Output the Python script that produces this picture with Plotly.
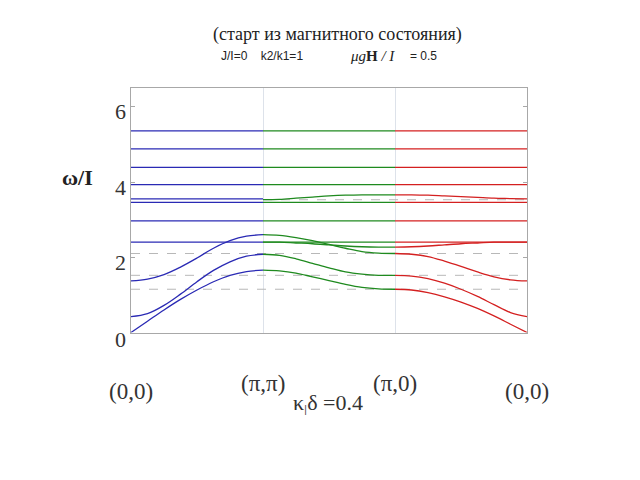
import plotly.graph_objects as go

# k-path positions per segment (fraction along each segment)
seg_frac = [0, 0.125, 0.25, 0.375, 0.5, 0.625, 0.75, 0.875, 1.0]
seg_start = [0, 1, 2]
seg_colors = ["#2a2ab4", "#1f8a1f", "#d42020"]

# flat branches (same in all segments)
flat_levels = [5.36, 4.88, 4.39, 3.93, 3.46, 2.97, 2.40]
# blue-only flat branch
blue_extra_flat = 3.55

# dispersive branches: [blue (G->M), green (M->X), red (X->G)]
band1 = [
    [0.00, 0.30, 0.60, 0.88, 1.13, 1.35, 1.52, 1.62, 1.66],
    [1.66, 1.64, 1.58, 1.48, 1.38, 1.28, 1.20, 1.16, 1.15],
    [1.15, 1.13, 1.06, 0.95, 0.81, 0.64, 0.44, 0.22, 0.00],
]
band2 = [
    [0.42, 0.50, 0.72, 1.02, 1.35, 1.65, 1.88, 2.03, 2.08],
    [2.08, 2.05, 1.96, 1.84, 1.72, 1.61, 1.55, 1.52, 1.52],
    [1.52, 1.50, 1.43, 1.31, 1.15, 0.96, 0.74, 0.53, 0.42],
]
band3 = [
    [1.37, 1.42, 1.54, 1.74, 1.98, 2.24, 2.44, 2.56, 2.60],
    [2.60, 2.58, 2.52, 2.44, 2.34, 2.24, 2.15, 2.11, 2.10],
    [2.10, 2.08, 2.02, 1.90, 1.76, 1.61, 1.48, 1.40, 1.37],
]
band4_gx = [
    [2.40, 2.40, 2.38, 2.36, 2.33, 2.30, 2.28, 2.27, 2.27],
    [2.27, 2.28, 2.30, 2.33, 2.36, 2.38, 2.40, 2.40, 2.40],
]
band5_gx = [
    [3.53, 3.54, 3.57, 3.60, 3.63, 3.65, 3.66, 3.66, 3.66],
    [3.66, 3.66, 3.65, 3.63, 3.61, 3.59, 3.57, 3.56, 3.55],
]

dashed_levels = [1.15, 1.52, 2.10, 3.53]

tick_vals_y = [0, 2, 4, 6]
tick_text_y = ["0", "2", "4", "6"]
tick_shift_y = [-7, -5, -5, -5]
k_labels = ["(0,0)", "(π,π)", "(π,0)", "(0,0)"]
k_label_pos = [0, 1, 2, 3]
k_label_dy = [391, 383, 383, 391]

title_text = "(старт из магнитного состояния)"
param_text = "J/I=0    k2/k1=1"
field_text = "<i>μg</i><b>H</b><i> / I</i>"
field_val = "= 0.5"
ylabel = "<b>ω/I</b>"
kappa_text = "κ<sub>ǀ</sub>δ =0.4"

fig = go.Figure()

# dashed reference lines
for lv in dashed_levels:
    x0 = 1 if lv == 3.53 else 0
    fig.add_trace(go.Scatter(x=[x0, 3], y=[lv, lv], mode="lines",
                             line=dict(color="#b8b8b8", width=1, dash="dash"),
                             hoverinfo="skip", showlegend=False))

def add(seg, ys):
    xs = [seg_start[seg] + f for f in seg_frac]
    fig.add_trace(go.Scatter(x=xs, y=ys, mode="lines",
                             line=dict(color=seg_colors[seg], width=1.3, shape="spline"),
                             showlegend=False))

for seg in range(3):
    for lv in flat_levels:
        add(seg, [lv] * len(seg_frac))
add(0, [blue_extra_flat] * len(seg_frac))
for band in (band1, band2, band3):
    for seg in range(3):
        add(seg, band[seg])
for i, seg in enumerate([1, 2]):
    add(seg, band4_gx[i])
    add(seg, band5_gx[i])

W, H = 640, 480
x_l, x_r = 131, 527
y_t, y_b = 88, 332.5

def py(pix):
    return 1 - pix / H

fig.update_layout(
    width=W, height=H, margin=dict(l=0, r=0, t=0, b=0),
    paper_bgcolor="white", plot_bgcolor="white",
    xaxis=dict(domain=[x_l / W, x_r / W], range=[0, 3],
               tickvals=k_label_pos, showticklabels=False, ticks="",
               showgrid=True, gridcolor="#dde2ea", gridwidth=1,
               showline=True, linecolor="#a8a8a8", linewidth=1, mirror=True,
               zeroline=False),
    yaxis=dict(domain=[py(y_b), py(y_t)], range=[0, 6.5],
               tickvals=tick_vals_y, ticks="inside", ticklen=4, tickcolor="#a8a8a8",
               showticklabels=False, showgrid=False, zeroline=False,
               showline=True, linecolor="#a8a8a8", linewidth=1, mirror="ticks"),
)

ann = []
ann.append(dict(x=337, y=35, text=title_text,
                font=dict(family="Liberation Serif", size=18, color="#222")))
ann.append(dict(x=262, y=56, text=param_text,
                font=dict(family="Liberation Sans", size=12, color="#222")))
ann.append(dict(x=372, y=56, text=field_text,
                font=dict(family="Liberation Serif", size=15, color="#222")))
ann.append(dict(x=423, y=56, text=field_val,
                font=dict(family="Liberation Sans", size=12, color="#222")))
ann.append(dict(x=77, y=177, text=ylabel,
                font=dict(family="Liberation Serif", size=22, color="#222")))
for lab, pos, dy in zip(k_labels, k_label_pos, k_label_dy):
    px = x_l + (x_r - x_l) * pos / 3
    ann.append(dict(x=px, y=dy, text=lab,
                    font=dict(family="Liberation Serif", size=23, color="#333")))
ann.append(dict(x=328, y=404, text=kappa_text,
                font=dict(family="Liberation Serif", size=22, color="#333")))

annotations = [dict(a, xref="paper", yref="paper",
                    x=a["x"] / W, y=py(a["y"]),
                    xanchor="center", yanchor="middle",
                    showarrow=False) for a in ann]
# y tick labels, slightly below the ticks as in the reference
for v, t, s in zip(tick_vals_y, tick_text_y, tick_shift_y):
    annotations.append(dict(xref="paper", yref="y", x=(x_l - 3) / W, y=v,
                            text=t, xanchor="right", yanchor="middle",
                            yshift=s, showarrow=False,
                            font=dict(family="Liberation Serif", size=22, color="#333")))

fig.update_layout(annotations=annotations)

fig.write_html("out.html", config={"responsive": False})
